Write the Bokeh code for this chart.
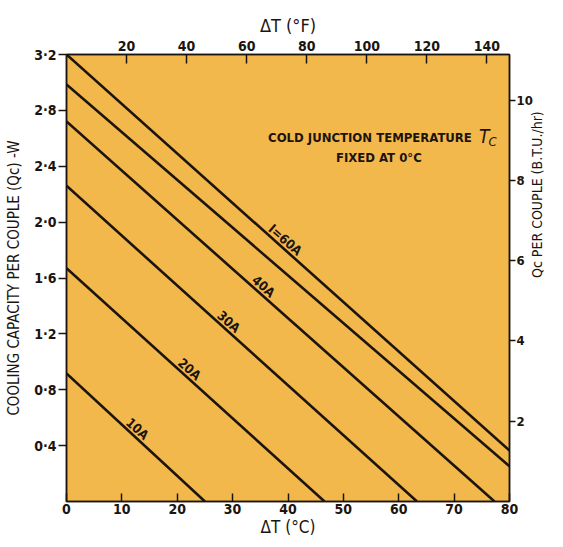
import math
from bokeh.plotting import figure
from bokeh.models import Range1d, LinearAxis, FixedTicker, Label, ColumnDataSource
from bokeh.embed import file_html
from bokeh.resources import INLINE
from bokeh.core.properties import value

FONT = "DejaVu Sans Condensed"
INK = "#1c1410"
FILL = "#F2B84B"

# ---- data ----
currents = ["60A", "50A", "40A", "30A", "20A", "10A"]
line_labels = ["I=60A", "", "40A", "30A", "20A", "10A"]
dT_start = [0, 0, 0, 0, 0, 0]
q_start = [3.2, 2.985, 2.72, 2.26, 1.67, 0.917]
dT_end = [80, 80, 77.3, 63.3, 46.6, 25.0]
q_end = [0.365, 0.252, 0.0, 0.0, 0.0, 0.0]
label_dT = [38.6, None, 34.7, 28.4, 21.3, 11.9]

x_ticks_c = [0, 10, 20, 30, 40, 50, 60, 70, 80]
y_ticks_w = [0.4, 0.8, 1.2, 1.6, 2.0, 2.4, 2.8, 3.2]
y_tick_labels = ["0·4", "0·8", "1·2", "1·6", "2·0", "2·4", "2·8", "3·2"]
f_ticks = [20, 40, 60, 80, 100, 120, 140]
btu_ticks = [2, 4, 6, 8, 10]

X_MAX_C = 80
Y_MAX_W = 3.2
F_MAX = 147.5
BTU_MAX = 11.14

W, H = 555, 539
BL, BR, BT, BB = 66, 38, 54, 38
FW, FH = W - BL - BR, H - BT - BB

p = figure(width=W, height=H, x_range=Range1d(0, X_MAX_C), y_range=Range1d(0, Y_MAX_W),
           output_backend="svg", toolbar_location=None,
           min_border_left=BL, min_border_right=BR, min_border_top=BT, min_border_bottom=BB)
p.background_fill_color = FILL
p.border_fill_color = "white"
p.outline_line_color = INK
p.outline_line_width = 1.5
p.xgrid.visible = False
p.ygrid.visible = False

def style_axis(ax, size="14px"):
    ax.axis_line_color = INK
    ax.axis_line_width = 1.5
    ax.major_tick_line_color = INK
    ax.major_tick_line_width = 1.5
    ax.minor_tick_in = 0
    ax.minor_tick_out = 0
    ax.major_label_text_font = FONT
    ax.major_label_text_font_size = size
    ax.major_label_text_font_style = "bold"
    ax.major_label_text_color = INK
    ax.axis_label_text_font = FONT
    ax.axis_label_text_color = INK
    ax.axis_label_text_font_style = "normal"

# bottom axis
xa = p.xaxis[0]
style_axis(xa, "14px")
xa.ticker = FixedTicker(ticks=x_ticks_c)
xa.major_tick_in = 8
xa.major_tick_out = 0
xa.major_label_standoff = 2
xa.axis_label = "ΔT (°C)"
xa.axis_label_text_font_size = "17px"
xa.axis_label_standoff = 0

# left axis
ya = p.yaxis[0]
style_axis(ya, "14px")
ya.ticker = FixedTicker(ticks=y_ticks_w)
ya.major_label_overrides = {t: s for t, s in zip(y_ticks_w, y_tick_labels)}
ya.major_tick_in = 0
ya.major_tick_out = 8
ya.major_label_standoff = 2
ya.axis_label = "COOLING CAPACITY PER COUPLE (Qc) -W"
ya.axis_label_text_font_size = "15px"
ya.axis_label_standoff = 8

# top axis (deg F)
p.extra_x_ranges = {"f": Range1d(0, F_MAX)}
ta = LinearAxis(x_range_name="f")
style_axis(ta, "14px")
ta.ticker = FixedTicker(ticks=f_ticks)
ta.major_tick_in = 9
ta.major_tick_out = 0
ta.major_label_standoff = 4
ta.axis_label = "ΔT (°F)"
ta.axis_label_text_font_size = "18px"
ta.axis_label_standoff = 2
p.add_layout(ta, "above")

# right axis (BTU/hr)
p.extra_y_ranges = {"btu": Range1d(0, BTU_MAX)}
ra = LinearAxis(y_range_name="btu")
style_axis(ra, "13px")
ra.ticker = FixedTicker(ticks=btu_ticks)
ra.major_tick_in = 0
ra.major_tick_out = 6
ra.major_label_standoff = 1
ra.axis_label = "Qc  PER COUPLE (B.T.U./hr)"
ra.axis_label_text_font_size = "14px"
ra.axis_label_standoff = 1
try:
    ra.axis_label_orientation = math.pi / 2
except Exception:
    pass
p.add_layout(ra, "right")

# lines
for xs0, ys0, xs1, ys1 in zip(dT_start, q_start, dT_end, q_end):
    p.line([xs0, xs1], [ys0, ys1], line_color=INK, line_width=2.6)

# line labels along lines
sx = FW / X_MAX_C
sy = FH / Y_MAX_W
lx, ly, lt, la = [], [], [], []
for lab, ld, xs0, ys0, xs1, ys1 in zip(line_labels, label_dT, dT_start, q_start, dT_end, q_end):
    if not lab:
        continue
    slope = (ys1 - ys0) / (xs1 - xs0)
    lx.append(ld)
    ly.append(ys0 + slope * (ld - xs0))
    lt.append(lab)
    la.append(math.atan(slope * sy / sx))
src = ColumnDataSource(dict(x=lx, y=ly, text=lt, angle=la))
p.text(x="x", y="y", text="text", angle="angle", source=src,
       text_font=value(FONT), text_font_size="13px", text_font_style="bold",
       text_color=INK, text_align="center", text_baseline="bottom")

# annotation
p.add_layout(Label(x=36.4, y=2.607, text="COLD JUNCTION TEMPERATURE", text_font=FONT,
                   text_font_size="13px", text_font_style="bold", text_color=INK,
                   text_align="left", text_baseline="alphabetic"))
p.add_layout(Label(x=74.5, y=2.62, text="T", text_font=FONT, text_font_size="19px",
                   text_font_style="italic", text_color=INK, text_baseline="alphabetic"))
p.add_layout(Label(x=76.2, y=2.575, text="C", text_font=FONT, text_font_size="13px",
                   text_font_style="italic", text_color=INK, text_baseline="alphabetic"))
p.add_layout(Label(x=56.4, y=2.465, text="FIXED AT 0°C", text_font=FONT,
                   text_font_size="13px", text_font_style="bold", text_color=INK,
                   text_align="center", text_baseline="alphabetic"))

open("out.html", "w").write(file_html(p, INLINE))
